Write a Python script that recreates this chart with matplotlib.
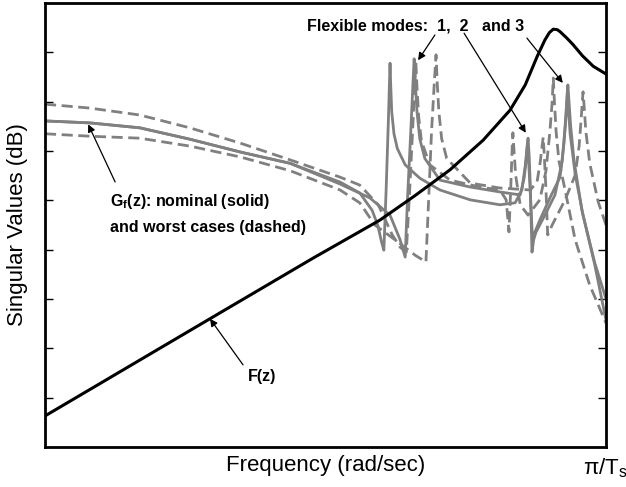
import matplotlib
matplotlib.use("Agg")
import matplotlib.pyplot as plt

plt.rcParams['font.family'] = ['Liberation Sans', 'DejaVu Sans']
plt.rcParams['mathtext.fontset'] = 'custom'
plt.rcParams['mathtext.rm'] = 'Liberation Sans'
plt.rcParams['mathtext.bf'] = 'Liberation Sans:bold'
plt.rcParams['mathtext.it'] = 'Liberation Sans:italic'

# frequency axis: 0 .. 100 (100 = pi/Ts), magnitude in dB

# weighting filter F(z)
f_w = [0, 29.4, 47.8, 59.7, 66.0, 72.2, 78.1, 82.9, 85.6, 87.7, 89.1, 89.9, 90.6,
       91.3, 91.8, 93.0, 94.1, 95.8, 97.7, 100]
f_db = [-73.7, -54.0, -41.7, -34.0, -29.0, -23.8, -17.8, -11.7, -6.6, -0.9, 2.5, 4.0, 4.7,
        4.6, 4.2, 2.9, 1.6, -0.7, -2.8, -4.4]

# nominal model, first singular value (solid)
na_w = [0, 8.0, 16.9, 25.8, 34.8, 43.7, 52.6, 56.1, 58.3, 59.3, 60.0, 60.4, 60.8, 61.2,
        61.4, 61.5, 61.6, 61.8, 62.2, 62.8, 64.2, 66.8, 70.4, 75.8, 81.1, 83.8, 85.0, 85.6,
        85.9, 86.1, 86.3, 86.5, 86.8, 87.1, 87.5, 89.1, 90.9, 92.2, 92.7, 93.0, 93.2, 93.4,
        93.7, 94.3, 95.7, 98.0, 100]
na_db = [-13.9, -14.3, -15.3, -17.6, -20.2, -22.5, -26.3, -28.5, -32.0, -35.0, -38.5, -40.1,
         -28.0, -14.0, -6.0, -2.2, -6.0, -12.0, -16.5, -19.5, -22.8, -25.5, -27.9, -29.9,
         -30.9, -30.5, -27.9, -23.0, -19.5, -17.4, -21.0, -27.0, -40.5, -38.0, -36.5, -33.0,
         -28.9, -22.0, -15.0, -10.0, -6.6, -10.0, -15.0, -22.0, -32.0, -43.1, -54.3]

# nominal model, second singular value (solid)
nb_w = [0, 8.0, 16.9, 25.8, 34.8, 43.7, 52.6, 57.9, 61.5, 63.3, 64.2, 64.6, 65.2, 65.6,
        65.8, 66.0, 66.3, 66.8, 67.7, 70.4, 75.8, 81.1, 84.7, 85.4, 85.8, 86.0, 86.2, 86.5,
        86.9, 87.3, 88.2, 90.0, 91.8, 92.5, 92.9, 93.1, 93.3, 93.6, 94.5, 95.9, 98.0, 100]
nb_db = [-13.9, -14.3, -15.3, -17.6, -20.2, -22.5, -26.7, -29.5, -33.0, -38.0, -41.5,
         -30.0, -16.0, -6.0, -1.3, -6.0, -12.0, -17.5, -21.5, -25.9, -27.3, -28.3, -28.9,
         -25.5, -21.5, -18.4, -22.0, -28.5, -38.0, -36.5, -34.0, -29.5, -25.3, -18.5,
         -12.5, -8.0, -11.5, -16.5, -24.7, -33.0, -42.7, -50.0]

# worst case, upper (dashed)
wa_w = [0, 8.0, 16.9, 25.8, 34.8, 43.7, 52.6, 56.1, 59.4, 61.9, 63.3, 64.4, 65.0, 65.6,
        65.9, 66.1, 66.3, 66.6, 67.1, 68.6, 72.2, 77.5, 81.1, 82.2, 82.7, 83.0, 83.25, 83.4,
        83.6, 83.9, 84.7, 86.1, 88.2, 89.3, 90.0, 90.4, 90.6, 90.8, 91.1, 91.6, 92.7, 94.5,
        97.1, 100]
wa_db = [-10.5, -11.3, -12.7, -15.3, -18.4, -21.8, -25.3, -26.9, -30.9, -37.0, -39.5,
         -40.5, -28.0, -14.0, -6.0, -2.0, -7.0, -13.0, -18.0, -22.8, -25.9, -27.3, -27.9,
         -29.9, -36.4, -28.0, -20.0, -16.3, -20.0, -25.0, -30.9, -33.0, -29.9, -24.0, -16.0,
         -10.0, -5.2, -10.0, -16.0, -22.0, -27.9, -38.0, -47.2, -54.9]

# worst case, lower (dashed)
wb_w = [0, 8.0, 16.9, 25.8, 34.8, 43.7, 52.6, 56.1, 58.8, 62.4, 65.95, 67.9, 68.3, 68.9,
        69.4, 69.7, 69.9, 70.2, 70.7, 71.6, 75.8, 81.1, 86.5, 87.7, 88.3, 88.6, 88.8, 89.0,
        89.3, 89.6, 90.0, 90.4, 92.7, 94.5, 95.2, 95.6, 95.9, 96.1, 96.4, 97.1, 98.6, 100]
wb_db = [-16.5, -17.0, -17.4, -19.0, -21.2, -24.0, -27.9, -30.5, -35.0, -38.0, -41.1,
         -42.5, -32.0, -16.0, -6.0, -0.5, -6.0, -12.0, -17.5, -21.5, -26.5, -27.5, -27.9,
         -26.3, -22.0, -19.0, -17.2, -21.0, -28.0, -37.0, -36.0, -35.0, -29.9, -24.9, -19.0,
         -13.0, -8.0, -11.0, -16.0, -22.5, -30.3, -35.0]

gray = '#808080'
dash = (0, (4, 2))

fig = plt.figure(figsize=(6.26, 4.87), dpi=100)
ax = fig.add_axes([0.0719, 0.0821, 0.8962, 0.9117])

ax.plot(na_w, na_db, color=gray, lw=2.0)
ax.plot(nb_w, nb_db, color=gray, lw=2.0)
ax.plot(wa_w, wa_db, color=gray, lw=2.0, ls=dash)
ax.plot(wb_w, wb_db, color=gray, lw=2.0, ls=dash)
ax.plot(f_w, f_db, color='black', lw=2.2, zorder=5)

ax.set_xlim(0, 100)
ax.set_ylim(-80, 10)
ax.set_xticks([])
ax.set_yticks(range(-70, 10, 10))
ax.set_yticklabels([])
ax.tick_params(axis='y', direction='in', length=6, width=1, left=True, right=True)
for s in ax.spines.values():
    s.set_linewidth(2)

ax.set_xlabel('Frequency (rad/sec)', fontsize=16, labelpad=6)
ax.set_ylabel('Singular Values (dB)', fontsize=16, labelpad=9)
ax.text(0.998, -0.047, 'π/T$_\\mathregular{s}$', transform=ax.transAxes,
        ha='center', va='center', fontsize=16)

bold = dict(fontsize=11.5, fontweight='bold')
arrow = dict(arrowstyle='-|>', color='black', lw=0.9, mutation_scale=11,
             shrinkA=0, shrinkB=0)

# flexible modes
ax.text(0.467, 0.948, 'Flexible modes:  1,  2   and 3', transform=ax.transAxes,
        ha='left', va='center', **bold)
ax.annotate('', xy=(66.5, -1.6), xytext=(0.695, 0.928), textcoords='axes fraction',
            arrowprops=arrow)
ax.annotate('', xy=(85.7, -16.3), xytext=(0.747, 0.932), textcoords='axes fraction',
            arrowprops=arrow)
ax.annotate('', xy=(92.3, -6.2), xytext=(0.859, 0.921), textcoords='axes fraction',
            arrowprops=arrow)

# plant model
ax.text(0.116, 0.552, 'G$_\\mathbf{f}$(z): nominal (solid)', transform=ax.transAxes,
        ha='left', va='center', **bold)
ax.text(0.116, 0.495, 'and worst cases (dashed)', transform=ax.transAxes,
        ha='left', va='center', **bold)
ax.annotate('', xy=(7.7, -14.6), xytext=(0.125, 0.597), textcoords='axes fraction',
            arrowprops=arrow)

# weighting filter
ax.text(0.387, 0.158, 'F(z)', transform=ax.transAxes, ha='center', va='center', **bold)
ax.annotate('', xy=(29.4, -54.0), xytext=(0.353, 0.185), textcoords='axes fraction',
            arrowprops=arrow)

fig.savefig('out.png', dpi=100)
